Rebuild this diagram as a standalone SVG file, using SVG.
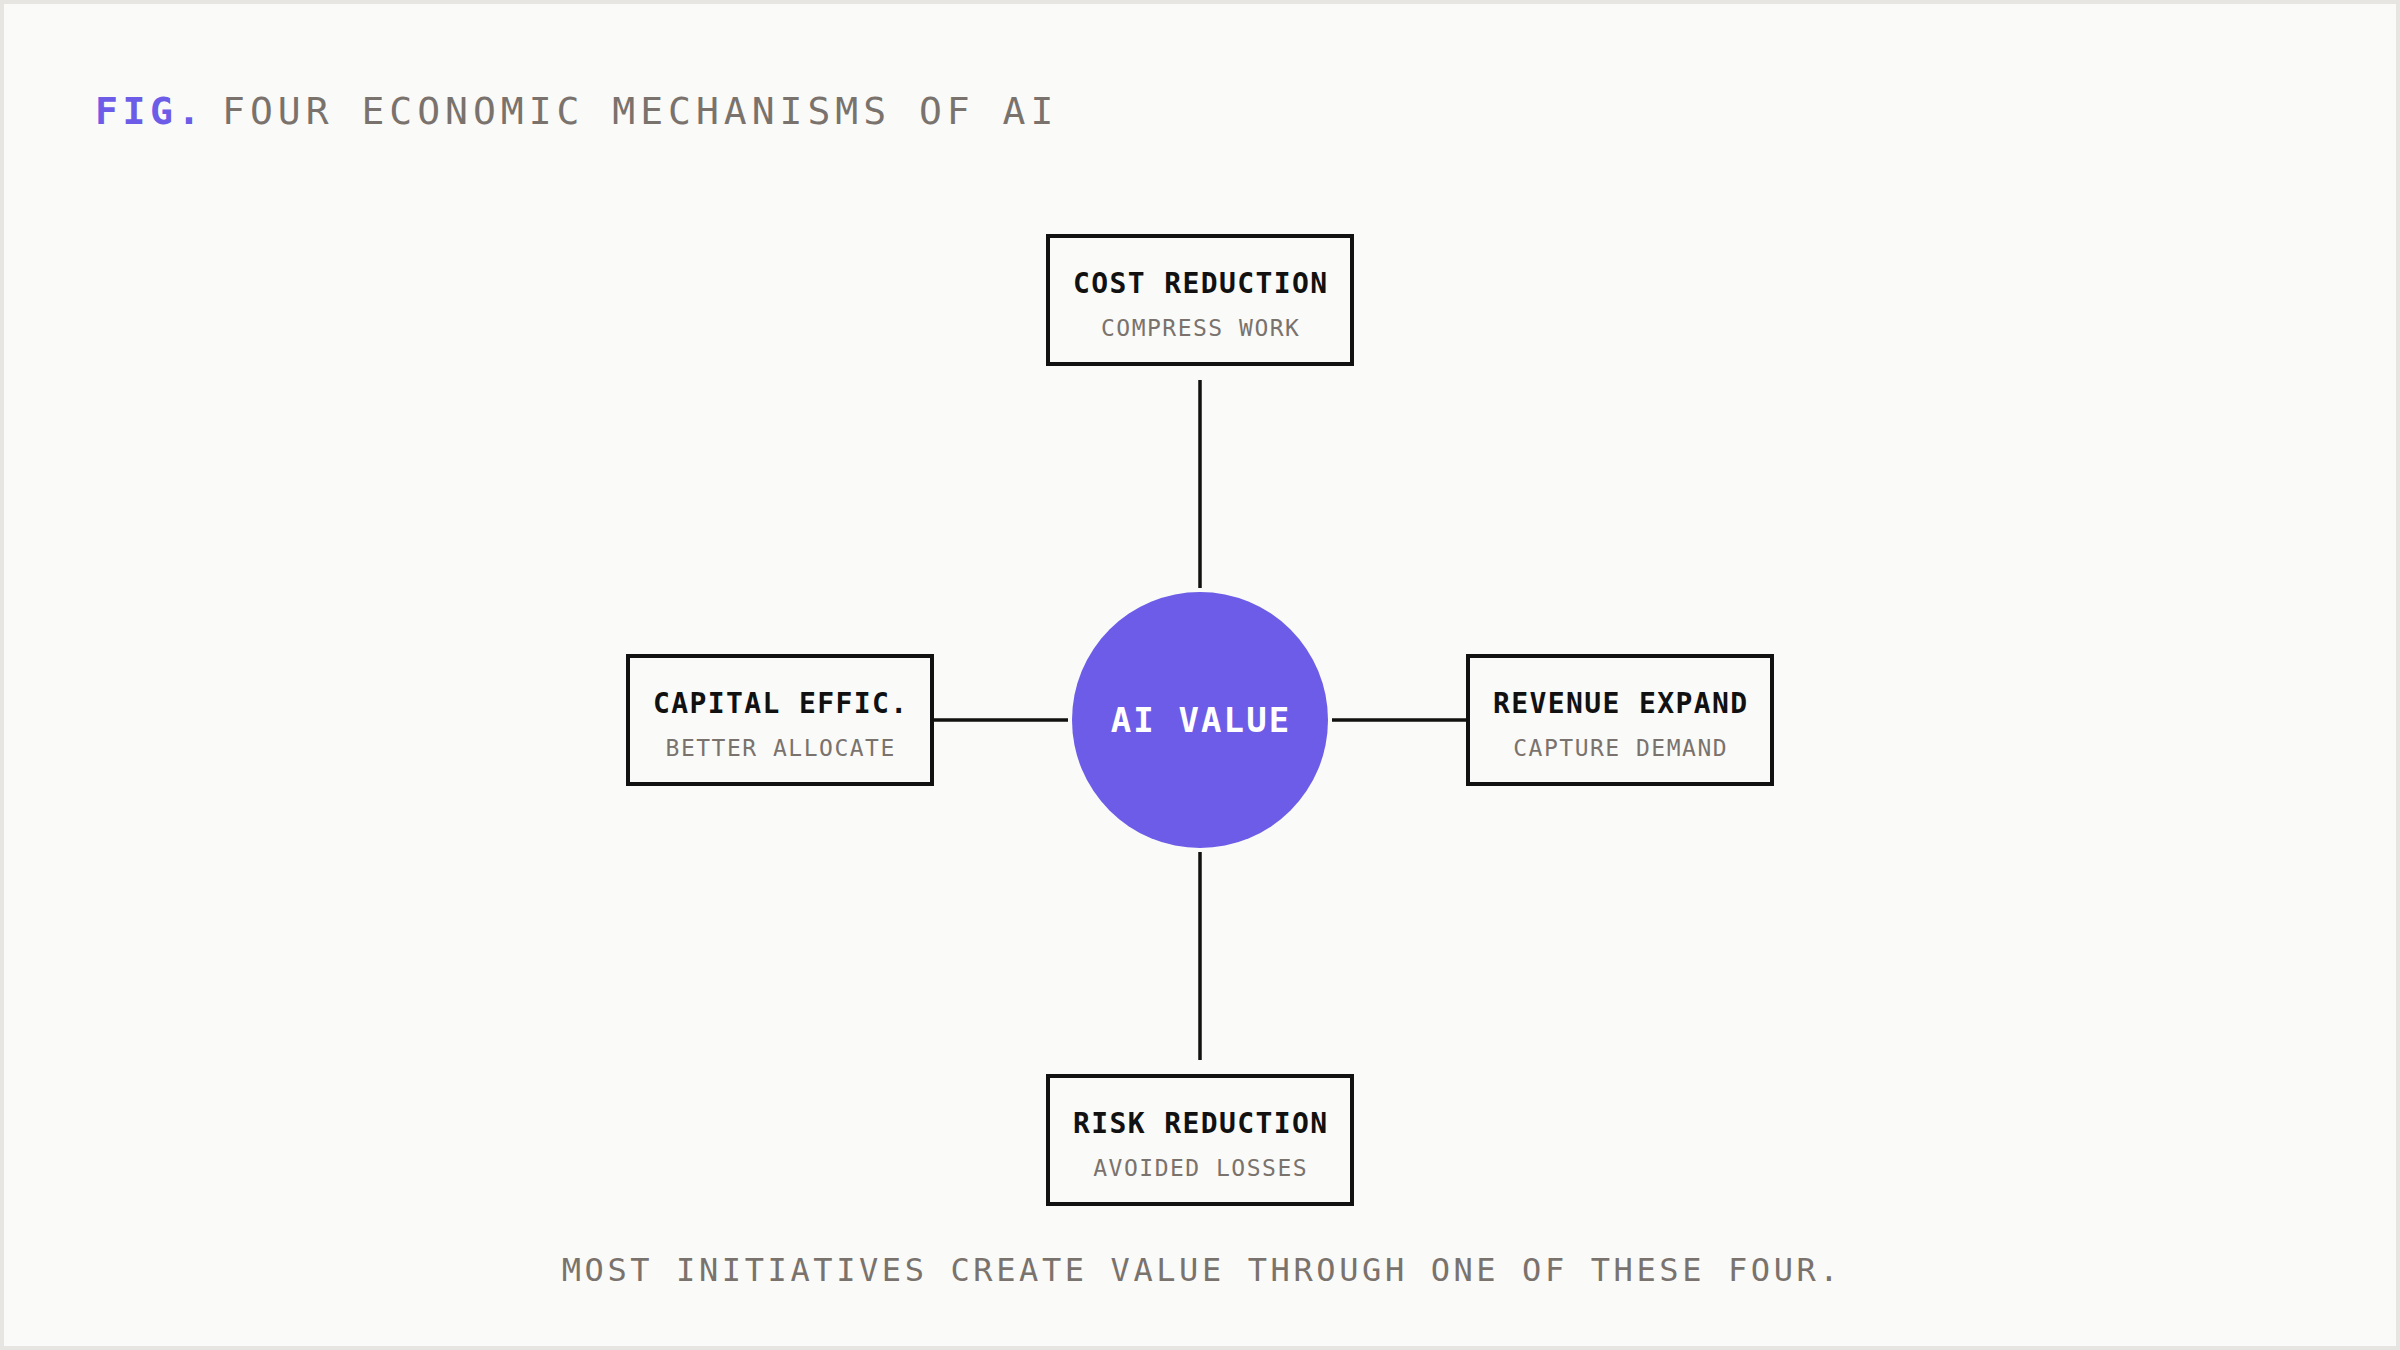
<svg xmlns="http://www.w3.org/2000/svg" width="2400" height="1350" viewBox="0 0 2400 1350">
  <style>
    .mono { font-family: "DejaVu Sans Mono", "Liberation Mono", monospace; }
    .box { fill: #fafaf8; stroke: #111111; stroke-width: 4; }
    .ttl { font-size: 28px; font-weight: bold; fill: #111111; letter-spacing: 1.4px; text-anchor: middle; }
    .sub { font-size: 23px; fill: #7a736d; letter-spacing: 1.5px; text-anchor: middle; }
    .conn { stroke: #111111; stroke-width: 3.5; fill: none; }
  </style>
  <rect x="0" y="0" width="2400" height="1350" fill="#e6e5e2"/>
  <rect x="4" y="4" width="2392" height="1342" fill="#fafaf8"/>

  <g id="title">
    <text class="mono" x="95" y="124" font-size="38" letter-spacing="4.6" fill="#6c5ce7" font-weight="bold">FIG.</text>
    <text class="mono" x="222" y="124" font-size="38" letter-spacing="5" fill="#7a736d">FOUR ECONOMIC MECHANISMS OF AI</text>
  </g>

  <g id="connectors">
    <line class="conn" x1="1200" y1="380" x2="1200" y2="588"/>
    <line class="conn" x1="1200" y1="852" x2="1200" y2="1060"/>
    <line class="conn" x1="932" y1="720" x2="1068" y2="720"/>
    <line class="conn" x1="1332" y1="720" x2="1468" y2="720"/>
  </g>

  <g id="ai-value">
    <circle cx="1200" cy="720" r="128" fill="#6c5ce7"/>
    <text class="mono" x="1201" y="732" font-size="34" font-weight="bold" letter-spacing="2.1" fill="#ffffff" text-anchor="middle">AI VALUE</text>
  </g>

  <g id="cost-reduction">
    <rect class="box" x="1048" y="236" width="304" height="128"/>
    <text class="mono ttl" x="1200.7" y="293">COST REDUCTION</text>
    <text class="mono sub" x="1200.7" y="336">COMPRESS WORK</text>
  </g>

  <g id="capital-effic">
    <rect class="box" x="628" y="656" width="304" height="128"/>
    <text class="mono ttl" x="780.7" y="713">CAPITAL EFFIC.</text>
    <text class="mono sub" x="780.7" y="756">BETTER ALLOCATE</text>
  </g>

  <g id="revenue-expand">
    <rect class="box" x="1468" y="656" width="304" height="128"/>
    <text class="mono ttl" x="1620.7" y="713">REVENUE EXPAND</text>
    <text class="mono sub" x="1620.7" y="756">CAPTURE DEMAND</text>
  </g>

  <g id="risk-reduction">
    <rect class="box" x="1048" y="1076" width="304" height="128"/>
    <text class="mono ttl" x="1200.7" y="1133">RISK REDUCTION</text>
    <text class="mono sub" x="1200.7" y="1176">AVOIDED LOSSES</text>
  </g>

  <g id="footer">
    <text class="mono" x="1202" y="1281" font-size="32" letter-spacing="3.6" fill="#7a736d" text-anchor="middle">MOST INITIATIVES CREATE VALUE THROUGH ONE OF THESE FOUR.</text>
  </g>
</svg>
